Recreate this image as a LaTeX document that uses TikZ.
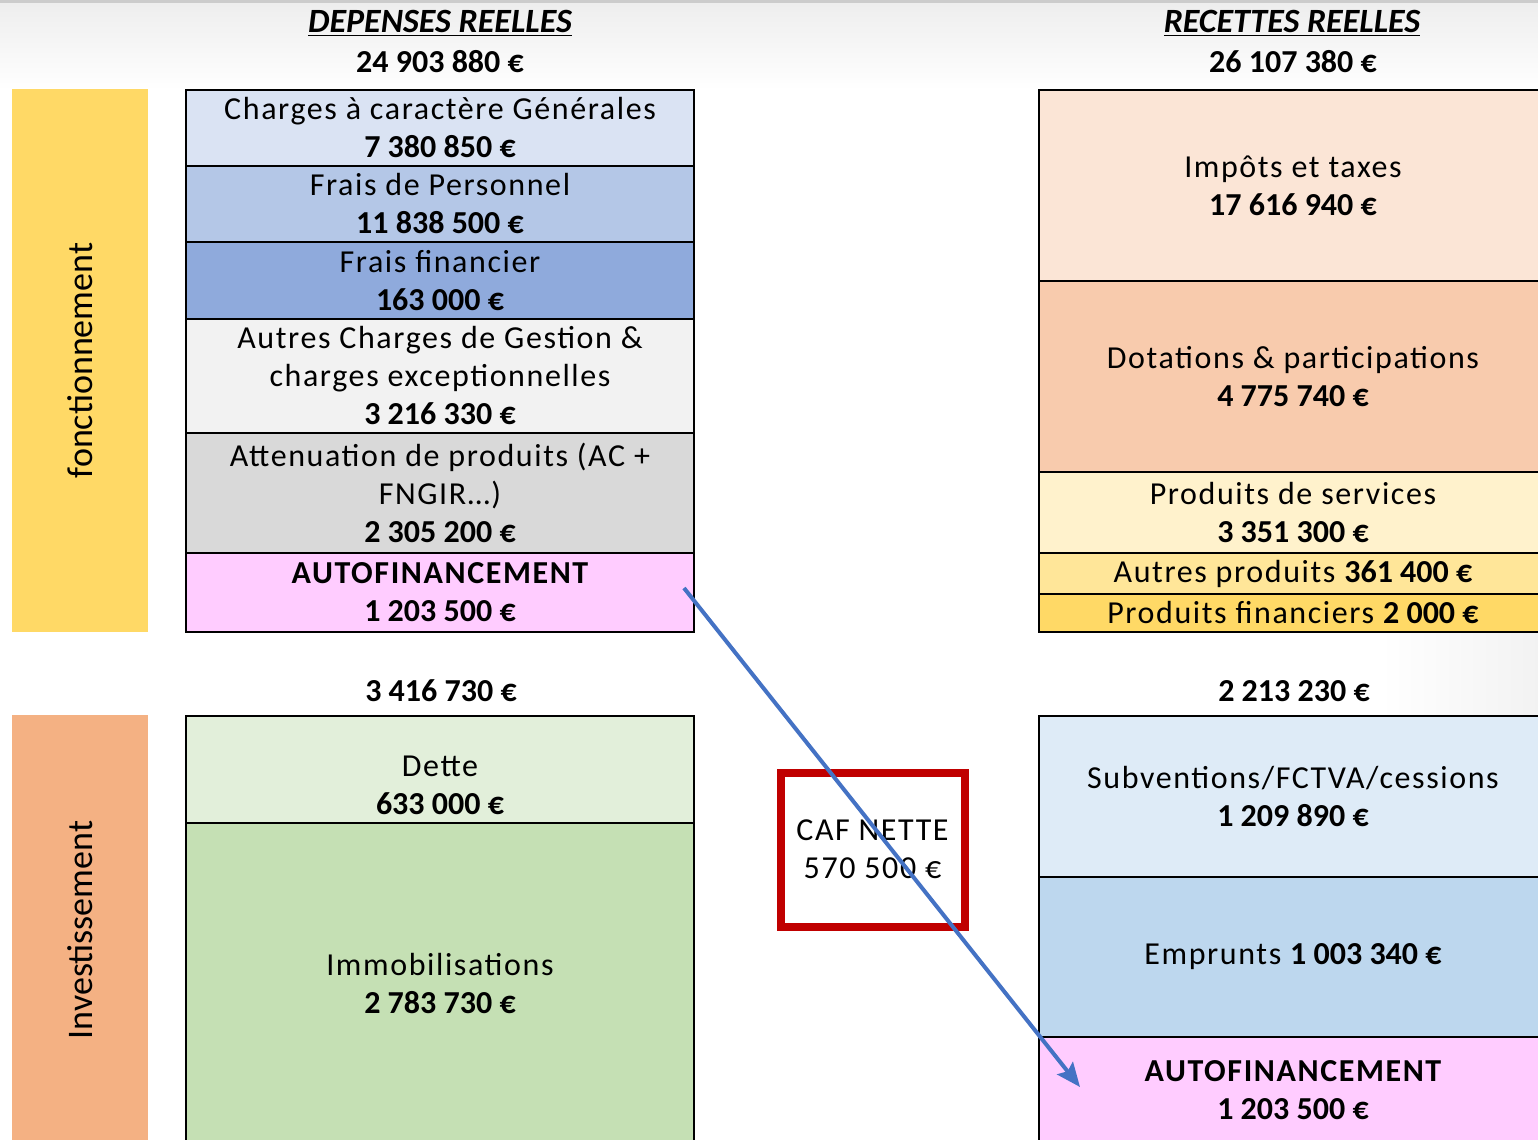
\documentclass[tikz,border=0pt]{standalone}
\usepackage{fontspec}
\setmainfont{Carlito}
\newfontfamily\wide{Carlito}[LetterSpace=5]
\usetikzlibrary{shapes,arrows.meta,chains,positioning}

\definecolor{fonc}{HTML}{FFD966}
\definecolor{inv}{HTML}{F4B183}
\definecolor{chgen}{HTML}{DAE3F3}
\definecolor{pers}{HTML}{B4C7E7}
\definecolor{finc}{HTML}{8FAADC}
\definecolor{autres}{HTML}{F2F2F2}
\definecolor{atten}{HTML}{D9D9D9}
\definecolor{autofin}{HTML}{FFCCFF}
\definecolor{dette}{HTML}{E2EFDA}
\definecolor{immo}{HTML}{C5E0B4}
\definecolor{impots}{HTML}{FBE5D6}
\definecolor{dotat}{HTML}{F8CBAD}
\definecolor{serv}{HTML}{FFF2CC}
\definecolor{autp}{HTML}{FFE699}
\definecolor{prodf}{HTML}{FFD966}
\definecolor{subv}{HTML}{DEEBF7}
\definecolor{empr}{HTML}{BDD7EE}
\definecolor{cafred}{HTML}{C00000}
\definecolor{flowblue}{HTML}{4472C4}

\newcommand{\amt}[1]{{\normalfont\bfseries #1}}

\begin{document}
\begin{tikzpicture}[%
	x=0.5pt, y=-0.5pt,          % one unit = one pixel of the slide
	every node/.style={font=\wide\fontsize{16}{19}\selectfont},
	>={Stealth[length=12pt,width=10pt,inset=2pt]},
	node distance=0pt,          % boxes of a column touch each other
	]
	% -------------------------------------------------
	% Box styles
	\tikzset{
		box/.style={draw, line width=1pt, outer sep=0pt, inner sep=2pt, align=center, minimum width=254pt},
		band/.style={rotate=90, outer sep=0pt, minimum height=68pt, font=\normalfont\fontsize{18}{20}\selectfont},
		total/.style={font=\normalfont\fontsize{16}{19}\selectfont\bfseries},
		head/.style={font=\normalfont\fontsize{17}{19}\selectfont\bfseries\itshape},
		cafbox/.style={draw=cafred, line width=4pt, minimum width=92pt, minimum height=77pt, align=center},
		flow/.style={->, draw=flowblue, line width=2pt}
	}

	\useasboundingbox (0,0) rectangle (1538,1140);
	\clip (0,0) rectangle (1538,1140);
	% slide background
	\fill[white] (0,0) rectangle (1538,1140);
	\shade[top color=gray!14, bottom color=white] (0,0) rectangle (1538,90);
	\shade[left color=white, right color=gray!10] (1380,90) rectangle (1538,1140);
	\draw[gray!40, line width=1.5pt] (0,1) -- (1538,1);

	% side bands
	\node[band, fill=fonc, minimum width=271.5pt]	(fonc)	at (80,360.5)	{fonctionnement};
	\node[band, fill=inv, minimum width=215pt]		(inv)	at (80,930)		{Investissement};

	% titles and totals
	\node[head]		(hdep)	at (440,23)		{\underline{DEPENSES REELLES}};
	\node[total]	(tdep)	at (440,62)		{24 903 880 €};
	\node[head]		(hrec)	at (1292,23)	{\underline{RECETTES REELLES}};
	\node[total]	(trec)	at (1293,62)	{26 107 380 €};
	\node[total]	(tinvd)	at (441,691)	{3 416 730 €};
	\node[total]	(tinvr)	at (1294,691)	{2 213 230 €};

	% fonctionnement - depenses
	\begin{scope}[start chain=dep going below]
	\node[box, on chain, fill=chgen, minimum height=38pt]	(d1) at (440,128)	{Charges à caractère Générales\\\amt{7 380 850 €}};
	\node[box, on chain, fill=pers, minimum height=38pt]	(d2)	{Frais de Personnel\\\amt{11 838 500 €}};
	\node[box, on chain, fill=finc, minimum height=38.5pt]	(d3)	{Frais financier\\\amt{163 000 €}};
	\node[box, on chain, fill=autres, minimum height=57pt]	(d4)	{Autres Charges de Gestion \&\\charges exceptionnelles\\\amt{3 216 330 €}};
	\node[box, on chain, fill=atten, minimum height=60pt]	(d5)	{Attenuation de produits (AC +\\FNGIR…)\\\amt{2 305 200 €}};
	\node[box, on chain, fill=autofin, minimum height=39.5pt]	(d6)	{\bfseries AUTOFINANCEMENT\\\amt{1 203 500 €}};
	\end{scope}

	% fonctionnement - recettes
	\begin{scope}[start chain=rec going below]
	\node[box, on chain, fill=impots, minimum height=95.5pt]	(r1) at (1293,185.5)	{Impôts et taxes\\\amt{17 616 940 €}};
	\node[box, on chain, fill=dotat, minimum height=95.5pt]	(r2)	{Dotations \& participations\\\amt{4 775 740 €}};
	\node[box, on chain, fill=serv, minimum height=40.5pt]	(r3)	{Produits de services\\\amt{3 351 300 €}};
	\node[box, on chain, fill=autp, minimum height=20.5pt, inner ysep=0pt]	(r4)	{Autres produits \amt{361 400 €}};
	\node[box, on chain, fill=prodf, minimum height=19pt, inner ysep=0pt]	(r5)	{Produits financiers \amt{2 000 €}};
	\end{scope}

	% investissement - depenses
	\begin{scope}[start chain=idep going below]
	\node[box, on chain, fill=dette, minimum height=53.5pt]	(i1) at (440,769.5)	{\rule{0pt}{26pt}Dette\\\amt{633 000 €}};
	\node[box, on chain, fill=immo, minimum height=160pt]	(i2)	{Immobilisations\\\amt{2 783 730 €}};
	\end{scope}

	% investissement - recettes
	\begin{scope}[start chain=irec going below]
	\node[box, on chain, fill=subv, minimum height=80.5pt]	(s1) at (1293,796.5)	{Subventions/FCTVA/cessions\\\amt{1 209 890 €}};
	\node[box, on chain, fill=empr, minimum height=80pt]	(s2)	{Emprunts \amt{1 003 340 €}};
	\node[box, on chain, fill=autofin, minimum height=53pt]	(s3)	{\bfseries AUTOFINANCEMENT\\\amt{1 203 500 €}};
	\end{scope}

	\node[cafbox]	(caf)	at (872.5,849.5)	{CAF NETTE\\570 500 €};

	% autofinancement carried over
	\coordinate (a0) at ([shift={(-10,35)}]d6.north east);
	\coordinate (a1) at ([shift={(41,50)}]s3.north west);
	\draw[flow] (a0) -- (a1);

\end{tikzpicture}
\end{document}
